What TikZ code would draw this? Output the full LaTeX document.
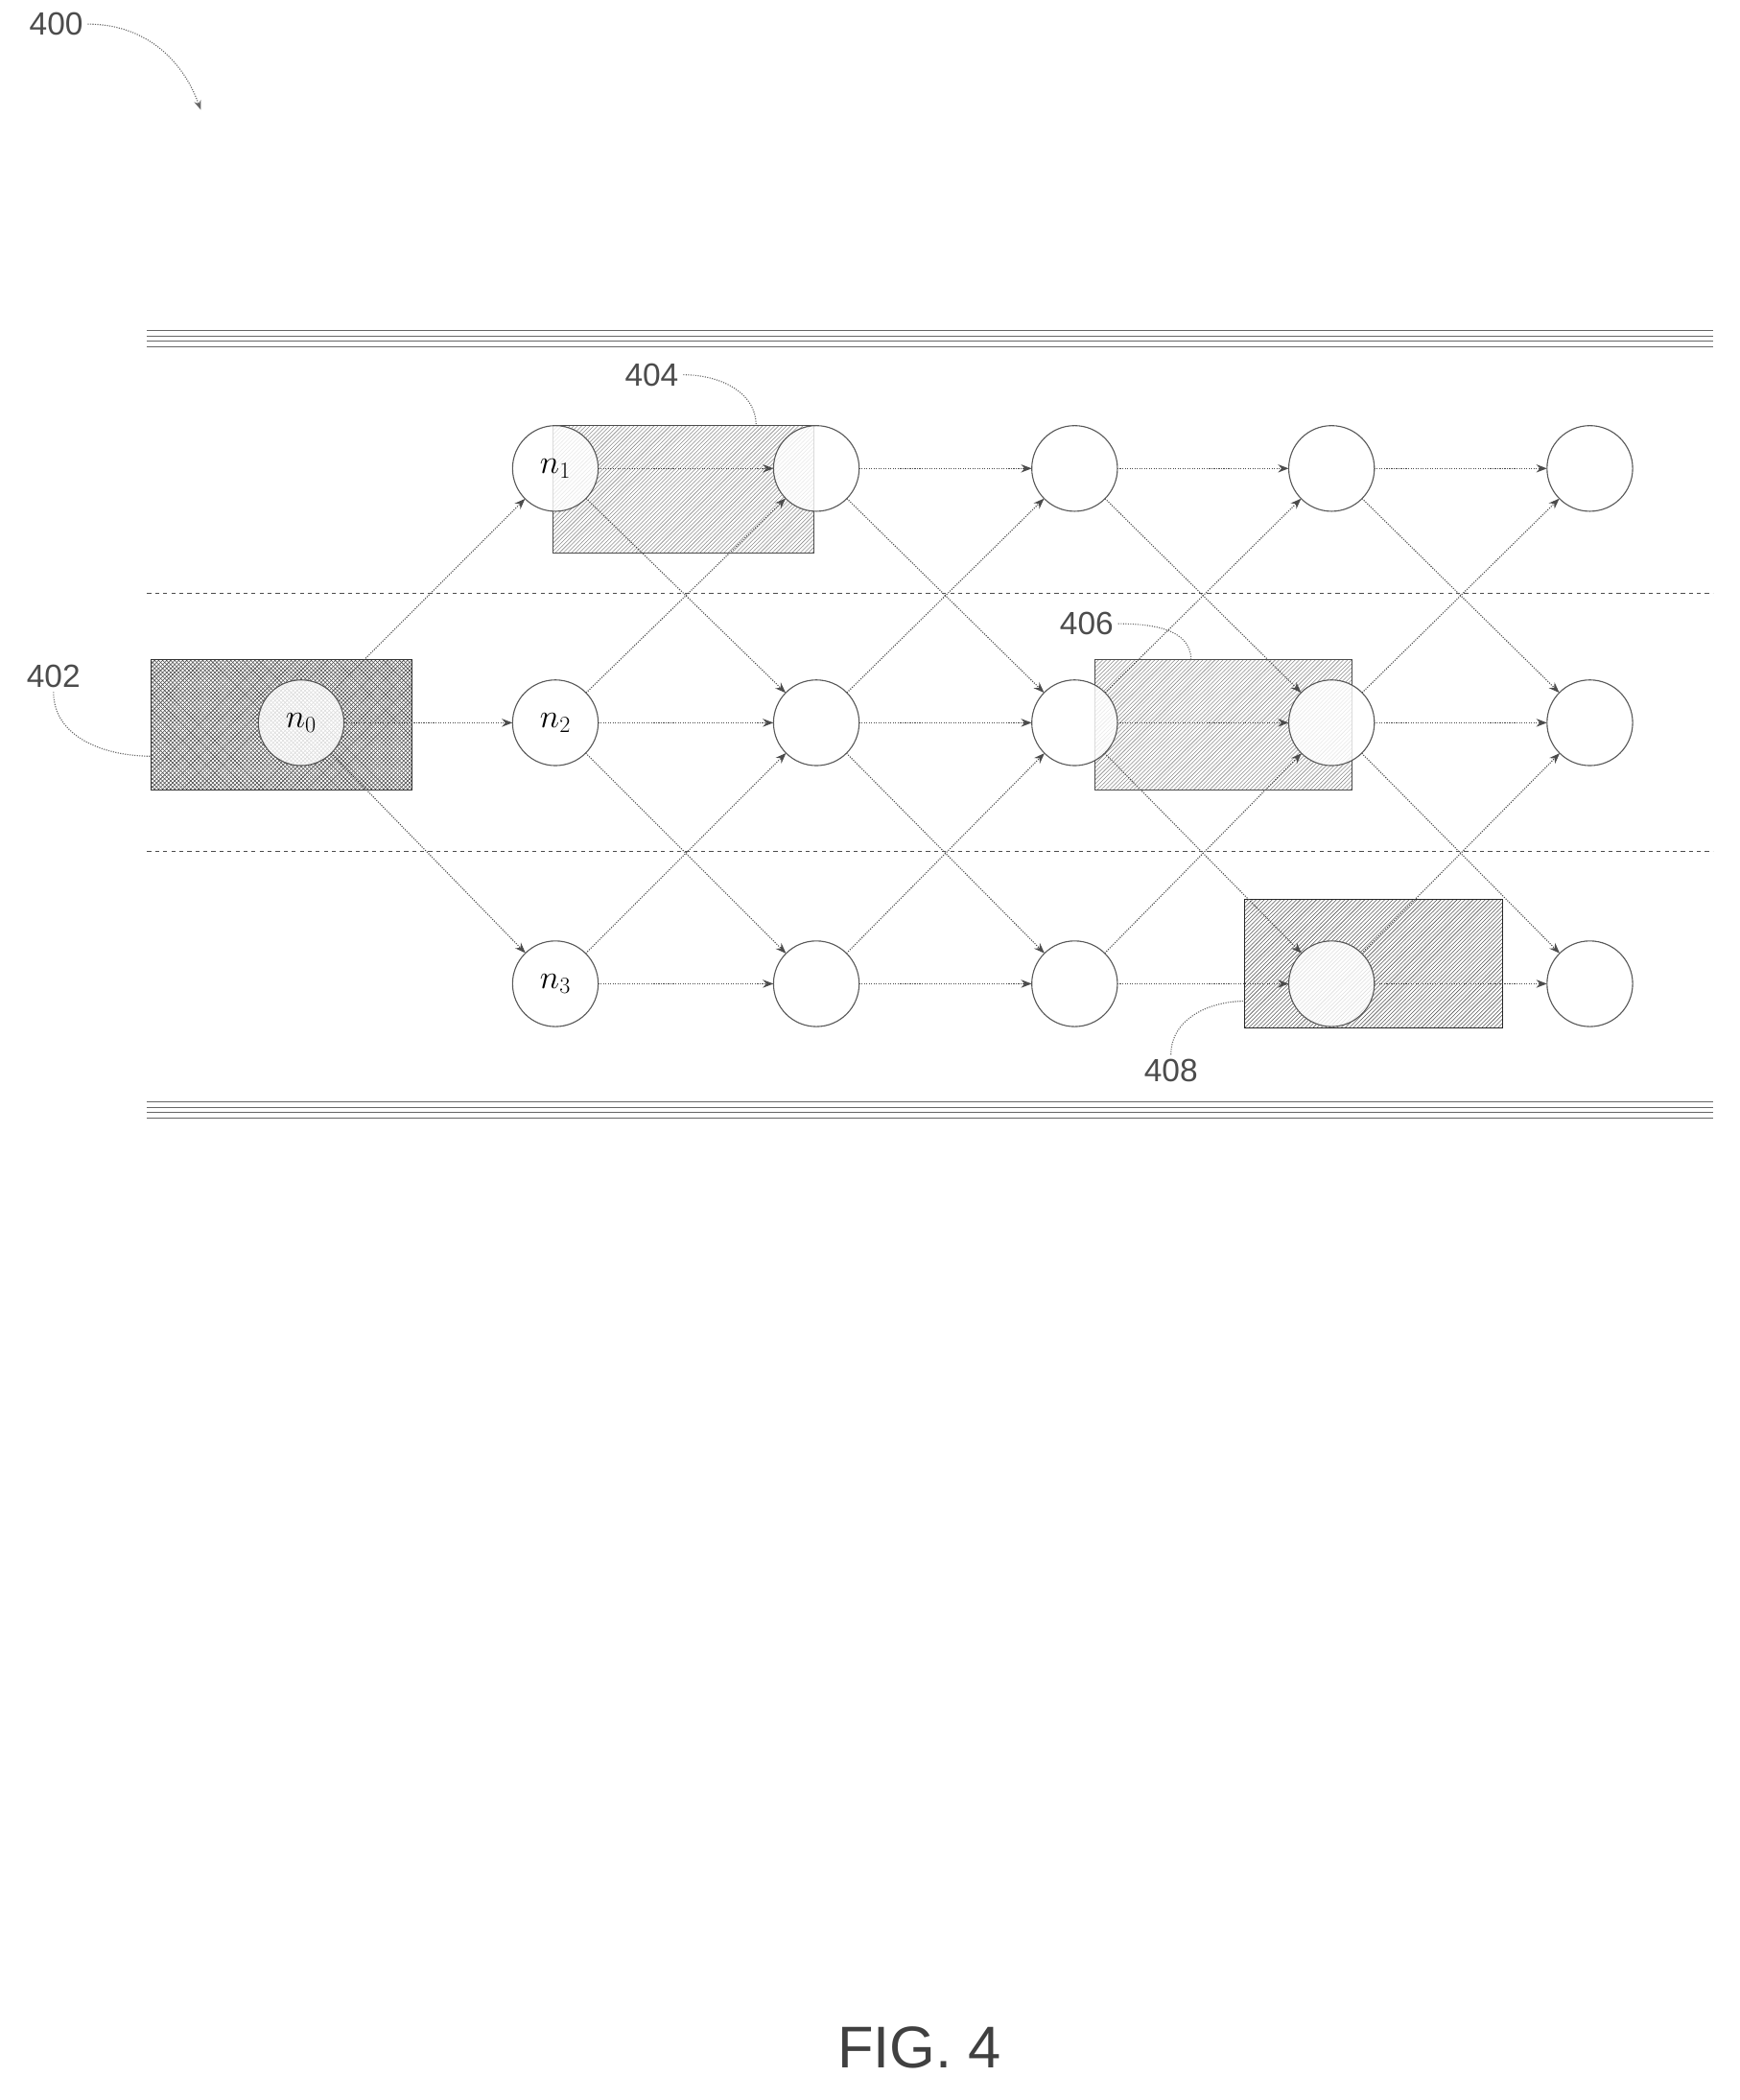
\documentclass[tikz,border=0pt]{standalone}
\usepackage{fontspec}
\newfontfamily\figfont{Liberation Sans}
\usetikzlibrary{patterns,arrows.meta}
\tikzset{
  stnode/.style={circle,draw=black!65,thick,fill=white,fill opacity=0.8,draw opacity=1,text opacity=1,minimum size=64pt,inner sep=0pt,font=\fontsize{26}{26}\selectfont},
  trans/.style={black!70,densely dotted,thick,-{Stealth[length=8pt,width=6pt]}},
  hbox/.style={draw=black!70,thick,pattern=north east lines,pattern color=black!45},
  xbox/.style={draw=black!80,thick,pattern=crosshatch,pattern color=black!70},
  refnum/.style={font=\fontsize{24}{24}\selectfont\figfont,text=black!70},
  lead/.style={black!60,densely dotted,thick}
}
\begin{document}
\begin{tikzpicture}[x=1pt,y=-1pt]
\useasboundingbox (0,0) rectangle (1300,1569);
% rails
\foreach \yy in {247,251,255,259,823,827,831,835}
  \draw[black!60] (110,\yy) -- (1280,\yy);
\draw[thick,dashed,black!70] (110,443) -- (1280,443);
\draw[thick,dashed,black!70] (110,636) -- (1280,636);
% boxes
\draw[xbox] (113,493) rectangle (308,590);
\draw[hbox] (413,318) rectangle (608,413);
\draw[hbox] (818,493) rectangle (1010,590);
\draw[hbox,draw=black!85,pattern color=black!65] (930,672) rectangle (1123,768);
% edges
\coordinate (n0c) at (225,540);
\foreach \c/\xx in {1/415,2/610,3/803,4/995,5/1188}
  \foreach \r/\yy in {1/350,2/540,3/735}
    \coordinate (p\c\r) at (\xx,\yy);
\foreach \r in {1,2,3}
  \draw[trans,shorten <=32pt,shorten >=32pt] (n0c) -- (p1\r);
\foreach \c [evaluate=\c as \d using int(\c+1)] in {1,2,3,4}
  \foreach \r/\s in {1/1,1/2,2/1,2/2,2/3,3/2,3/3}
    \draw[trans,shorten <=32pt,shorten >=32pt] (p\c\r) -- (p\d\s);
% states
\node[stnode] (n0) at (n0c) {$n_0$};
\node[stnode] (n1) at (p11) {$n_1$};
\node[stnode] (n2) at (p12) {$n_2$};
\node[stnode] (n3) at (p13) {$n_3$};
\foreach \c in {2,3,4,5}
  \foreach \r in {1,2,3}
    \node[stnode] (s\c\r) at (p\c\r) {};
% reference numerals
\node[refnum] (r400) at (42,18) {400};
\node[refnum] (r402) at (40,505) {402};
\node[refnum] (r404) at (487,280) {404};
\node[refnum] (r406) at (812,466) {406};
\node[refnum] (r408) at (875,800) {408};
\coordinate (t400) at (150,82);
\draw[lead,-{Stealth[length=7pt]}] (r400.east) to[out=0,in=110] (t400);
\draw[lead] (r402.south) to[out=-90,in=180] (113,565);
\draw[lead] (r404.east) to[out=0,in=90] (565,318);
\draw[lead] (r406.east) to[out=0,in=90] (890,493);
\draw[lead] (r408.north) to[out=90,in=180] (930,748);
\node[font=\fontsize{44}{44}\selectfont\figfont,text=black!75] (fig) at (687,1530) {FIG. 4};
\end{tikzpicture}
\end{document}
